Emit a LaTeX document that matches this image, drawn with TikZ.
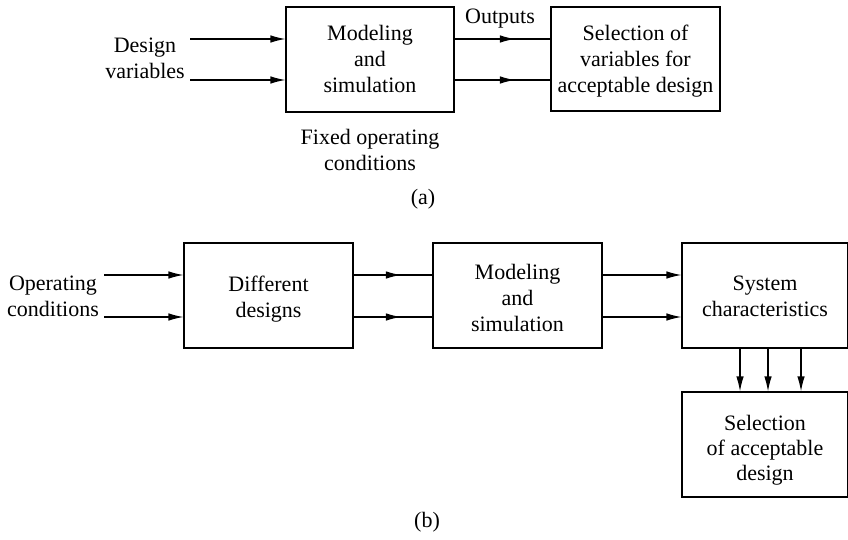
\documentclass[tikz,border=0pt]{standalone}
\usepackage{fontspec}
\setmainfont{Liberation Serif}
\usetikzlibrary{arrows.meta,decorations.markings}
\begin{document}
\begin{tikzpicture}[x=1pt,y=-1pt,
  every node/.style={font=\fontsize{22}{26}\selectfont, align=center, inner sep=0pt},
  blk/.style={draw, line width=1.2pt, minimum width=169pt, minimum height=105pt},
  conn/.style={line width=1.2pt},
  arr/.style={conn, -{Latex[length=15pt,width=7.5pt]}},
  midarr/.style={conn, postaction={decorate}, decoration={markings,
     mark=at position #1 with {\arrow{Latex[length=15pt,width=7.5pt]}}}},
  midarr/.default=0.6
]
\useasboundingbox (0,0) rectangle (848,540);
% ---------- (a)
\node[blk, minimum width=168pt] (ma) at (370,59.5) {};
\node (ma-t) at (370,58.5) {Modeling\\and\\simulation};
\node[blk, minimum height=104pt] (sa) at (635.5,59) {};
\node (sa-t) at (635.5,61) {Selection of\\variables for\\acceptable design};
\coordinate (ain1) at (190,39);
\coordinate (ain2) at (190,80);
\node (dv) at (145,58) {Design\\variables};
\draw[arr] (ain1) -- (ma.west |- ain1);
\draw[arr] (ain2) -- (ma.west |- ain2);
\draw[midarr=0.63] (ma.east |- ain1) -- (sa.west |- ain1);
\draw[midarr=0.63] (ma.east |- ain2) -- (sa.west |- ain2);
\node (out) at (500,19) {Outputs};
\node (foc) at (370,150) {Fixed operating\\conditions};
\node (la) at (423,199) {(a)};
% ---------- (b)
\node[blk] (dd) at (268.5,295.5) {};
\node (dd-t) at (268.5,299.5) {Different\\designs};
\node[blk] (mb) at (517.5,295.5) {};
\node (mb-t) at (517.5,297.5) {Modeling\\and\\simulation};
\node[blk, minimum width=166pt] (sc) at (765,295.5) {};
\node (sc-t) at (765,296.5) {System\\characteristics};
\node[blk, minimum width=166pt] (sel) at (765,444.5) {};
\node[font=\fontsize{22}{25}\selectfont] (sel-t) at (765,450.5) {Selection\\of acceptable\\design};
\coordinate (bin1) at (104,275);
\coordinate (bin2) at (104,317);
\node (oc) at (53,296) {Operating\\conditions};
\draw[arr] (bin1) -- (dd.west |- bin1);
\draw[arr] (bin2) -- (dd.west |- bin2);
\draw[midarr=0.6] (dd.east |- bin1) -- (mb.west |- bin1);
\draw[midarr=0.6] (dd.east |- bin2) -- (mb.west |- bin2);
\draw[arr] (mb.east |- bin1) -- (sc.west |- bin1);
\draw[arr] (mb.east |- bin2) -- (sc.west |- bin2);
\coordinate (dx1) at (740,0);
\coordinate (dx2) at (768,0);
\coordinate (dx3) at (801,0);
\draw[arr] (sc.south -| dx1) -- (sel.north -| dx1);
\draw[arr] (sc.south -| dx2) -- (sel.north -| dx2);
\draw[arr] (sc.south -| dx3) -- (sel.north -| dx3);
\node (lb) at (427,522) {(b)};
\end{tikzpicture}
\end{document}
